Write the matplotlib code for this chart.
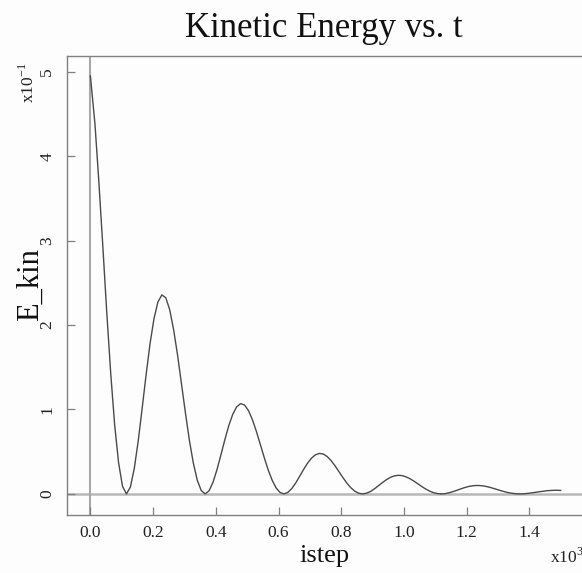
import matplotlib
matplotlib.use("Agg")
import matplotlib.pyplot as plt

plt.rcParams["font.family"] = ["Liberation Serif", "DejaVu Serif"]
plt.rcParams["mathtext.fontset"] = "custom"
plt.rcParams["mathtext.rm"] = "Liberation Serif"

# ---------------- data (istep in units of 10^3, E_kin in units of 10^-1) ----------------
title = "Kinetic Energy vs. t"
x_label = "istep"
y_label = "E_kin"
x_ticks = [0.0, 0.2, 0.4, 0.6, 0.8, 1.0, 1.2, 1.4]
x_tick_labels = ["0.0", "0.2", "0.4", "0.6", "0.8", "1.0", "1.2", "1.4"]
y_ticks = [0, 1, 2, 3, 4, 5]
y_tick_labels = ["0", "1", "2", "3", "4", "5"]

istep = [
    0.0, 0.0146, 0.0271, 0.0397, 0.0522, 0.0648, 0.0773, 0.0899, 0.1024,
    0.115, 0.1276, 0.1401, 0.1527, 0.1652, 0.1778, 0.1903, 0.2029, 0.2154, 0.2280,
    0.2405, 0.2531, 0.2656, 0.2782, 0.2907, 0.3033, 0.3158, 0.3284, 0.3409, 0.3535,
    0.366, 0.3786, 0.3911, 0.4037, 0.4162, 0.4288, 0.4413, 0.4539, 0.4664, 0.4790,
    0.4915, 0.5041, 0.5166, 0.5292, 0.5417, 0.5543, 0.5668, 0.5794, 0.5919, 0.6045,
    0.617, 0.6296, 0.6421, 0.6547, 0.6672, 0.6798, 0.6923, 0.7049, 0.7174, 0.7300,
    0.7425, 0.7551, 0.7676, 0.7802, 0.7927, 0.8053, 0.8178, 0.8304, 0.8429, 0.8555,
    0.868, 0.8806, 0.8931, 0.9057, 0.9182, 0.9308, 0.9433, 0.9559, 0.9684, 0.9810,
    0.9935, 1.0061, 1.0186, 1.0312, 1.0437, 1.0563, 1.0688, 1.0814, 1.0939, 1.1065,
    1.119, 1.1316, 1.1441, 1.1567, 1.1692, 1.1818, 1.1943, 1.2069, 1.2194, 1.2320,
    1.2445, 1.2571, 1.2696, 1.2822, 1.2947, 1.3073, 1.3198, 1.3324, 1.3449, 1.3575,
    1.370, 1.3826, 1.3951, 1.4077, 1.4202, 1.4328, 1.4453, 1.4579, 1.4704, 1.4830,
    1.4955, 1.500,
]
e_kin = [
    4.95, 4.38, 3.69, 2.93, 2.15, 1.43, 0.82, 0.37, 0.09,
    0.0, 0.081, 0.304, 0.631, 1.016, 1.414, 1.780, 2.076, 2.273, 2.357,
    2.323, 2.179, 1.942, 1.639, 1.299, 0.954, 0.633, 0.363, 0.162, 0.040,
    0.0, 0.037, 0.138, 0.286, 0.461, 0.641, 0.807, 0.941, 1.031, 1.069,
    1.053, 0.988, 0.880, 0.743, 0.589, 0.432, 0.287, 0.165, 0.073, 0.018,
    0.0, 0.017, 0.062, 0.128, 0.207, 0.288, 0.362, 0.422, 0.462, 0.479,
    0.473, 0.443, 0.395, 0.333, 0.264, 0.194, 0.129, 0.074, 0.033, 0.008,
    0.0, 0.008, 0.028, 0.059, 0.095, 0.132, 0.166, 0.194, 0.212, 0.220,
    0.217, 0.203, 0.181, 0.153, 0.121, 0.089, 0.059, 0.034, 0.015, 0.004,
    0.0, 0.003, 0.013, 0.027, 0.043, 0.060, 0.075, 0.088, 0.096, 0.100,
    0.098, 0.092, 0.082, 0.069, 0.055, 0.040, 0.027, 0.015, 0.007, 0.002,
    0.0, 0.002, 0.006, 0.012, 0.019, 0.026, 0.032, 0.038, 0.041, 0.043,
    0.042, 0.041,
]

# ---------------- figure ----------------
W, H = 582, 573
fig = plt.figure(figsize=(W / 100, H / 100), dpi=100)
fig.patch.set_facecolor("#fdfdfd")

left_px, right_px, top_px, bottom_px = 66.5, 582, 56, 515
ax = fig.add_axes([left_px / W, 1 - bottom_px / H,
                   (right_px - left_px) / W, (bottom_px - top_px) / H])
ax.set_facecolor("#fdfdfd")

ax.axhline(0, color="#b8b8b8", lw=1.8, zorder=1)
ax.axvline(0, color="#a8a8a8", lw=1.5, zorder=1)
ax.plot(istep, e_kin, color="#4a4a4a", lw=1.0, zorder=3)

ax.set_xlim(-0.0762, 1.568)
ax.set_ylim(-0.25, 5.186)

ax.set_xticks(x_ticks)
ax.set_xticklabels(x_tick_labels)
ax.set_yticks(y_ticks)
ax.set_yticklabels(y_tick_labels)

for s in ["left", "top", "bottom"]:
    ax.spines[s].set_color("#808080")
    ax.spines[s].set_linewidth(1.0)
ax.spines["right"].set_visible(False)

ax.tick_params(axis="both", direction="in", length=5.5, width=0.9,
               color="#808080", labelsize=12.5, labelcolor="#222222")
ax.tick_params(axis="x", pad=7)
ax.tick_params(axis="y", pad=8, labelrotation=90)
for lab in ax.get_yticklabels():
    lab.set_va("center")

fig.text(324 / W, 1 - 37 / H, title, ha="center", va="baseline",
         fontsize=25, color="#111111")
fig.text(324 / W, 1 - 562 / H, x_label, ha="center", va="baseline",
         fontsize=19, color="#111111")
fig.text(30.5 / W, 1 - 285 / H, y_label, ha="center", va="center",
         rotation=90, fontsize=22, color="#111111")
fig.text(550 / W, 1 - 563 / H, r"x10$^{\mathregular{3}}$", ha="left",
         va="baseline", fontsize=12.5, color="#222222")
fig.text(38 / W, 1 - 103 / H, r"x10$^{\mathregular{-1}}$", ha="right",
         va="bottom", rotation=90, fontsize=12.5, color="#222222")

fig.savefig("out.png", dpi=100, facecolor=fig.get_facecolor())
